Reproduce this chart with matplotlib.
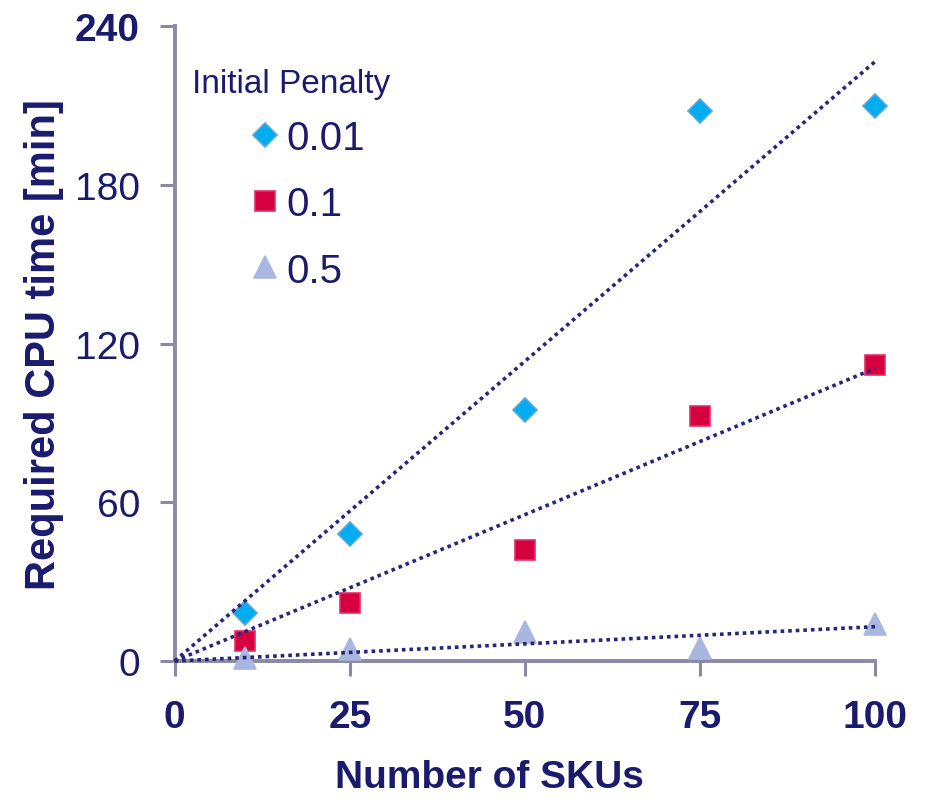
import numpy as np
import matplotlib.pyplot as plt

plt.rcParams["font.family"] = ["Liberation Sans", "DejaVu Sans"]

# data
skus = [10, 25, 50, 75, 100]
time_001 = [18, 48, 95, 208, 210]
time_01 = [7.6, 22, 42, 92.5, 112]
time_05 = [1, 4.5, 11, 5, 14]

penalties = ["0.01", "0.1", "0.5"]
x_ticks = [0, 25, 50, 75, 100]
y_ticks = [0, 60, 120, 180, 240]

NAVY = "#1b1b6e"
SPINE = "#8a8aa6"
TREND = "#262678"

series = [
    (time_001, "D", "#00aeef", "#5aa6dc", 12),
    (time_01, "s", "#d60041", "#e0306a", 14),
    (time_05, "^", "#a9b6e0", "#a9b6e0", 16),
]

fig = plt.figure(figsize=(9.29, 8.04), dpi=100)
ax = fig.add_axes([0.188, 0.1766, 0.754, 0.7894])

x = np.array(skus, dtype=float)
xs = np.array([0.0, 100.0])
handles = []
for (vals, marker, face, edge, ms), label in zip(series, penalties):
    y = np.array(vals, dtype=float)
    # linear trendline forced through the origin
    slope = np.sum(x * y) / np.sum(x * x)
    ax.plot(xs, slope * xs, linestyle=(0, (1, 1.1)), color=TREND, linewidth=2.6,
            zorder=4, clip_on=False)
    h, = ax.plot(x, y, linestyle="none", marker=marker, markersize=ms, markeredgewidth=1.2,
                 markerfacecolor=face, markeredgecolor=edge, label=label, zorder=3,
                 clip_on=False)
    handles.append(h)

ax.set_xlim(0, 100)
ax.set_ylim(0, 240)
ax.set_xticks(x_ticks)
ax.set_yticks(y_ticks)
ax.set_xticklabels([str(t) for t in x_ticks], fontsize=28, fontweight="bold", color=NAVY)
ax.set_yticklabels([str(t) for t in y_ticks], fontsize=28, color=NAVY)
ax.get_yticklabels()[-1].set_fontweight("bold")
ax.tick_params(axis="both", direction="out", length=11, width=2.2, color=SPINE)
ax.tick_params(axis="x", pad=16)
ax.tick_params(axis="y", pad=14)

for side in ["top", "right"]:
    ax.spines[side].set_visible(False)
for side in ["left", "bottom"]:
    ax.spines[side].set_color(SPINE)
    ax.spines[side].set_linewidth(2.8)

ax.set_xlabel("Number of SKUs", fontsize=28, fontweight="bold", color=NAVY)
ax.xaxis.set_label_coords(0.45, -0.155)
ax.set_ylabel("Required CPU time [min]", fontsize=30, fontweight="bold", color=NAVY)
ax.yaxis.set_label_coords(-0.158, 0.5)

fig.text(0.207, 0.884, "Initial Penalty", fontsize=24, color=NAVY, va="baseline", ha="left")
leg = ax.legend(handles=handles, loc="upper left", bbox_to_anchor=(0.2723, 0.8505),
                bbox_transform=fig.transFigure, frameon=False, fontsize=29,
                borderpad=0, borderaxespad=0, handlelength=0.6, handletextpad=0.22,
                labelspacing=0.7, markerscale=1.0)
for t in leg.get_texts():
    t.set_color(NAVY)

fig.savefig("out.png", dpi=100)
